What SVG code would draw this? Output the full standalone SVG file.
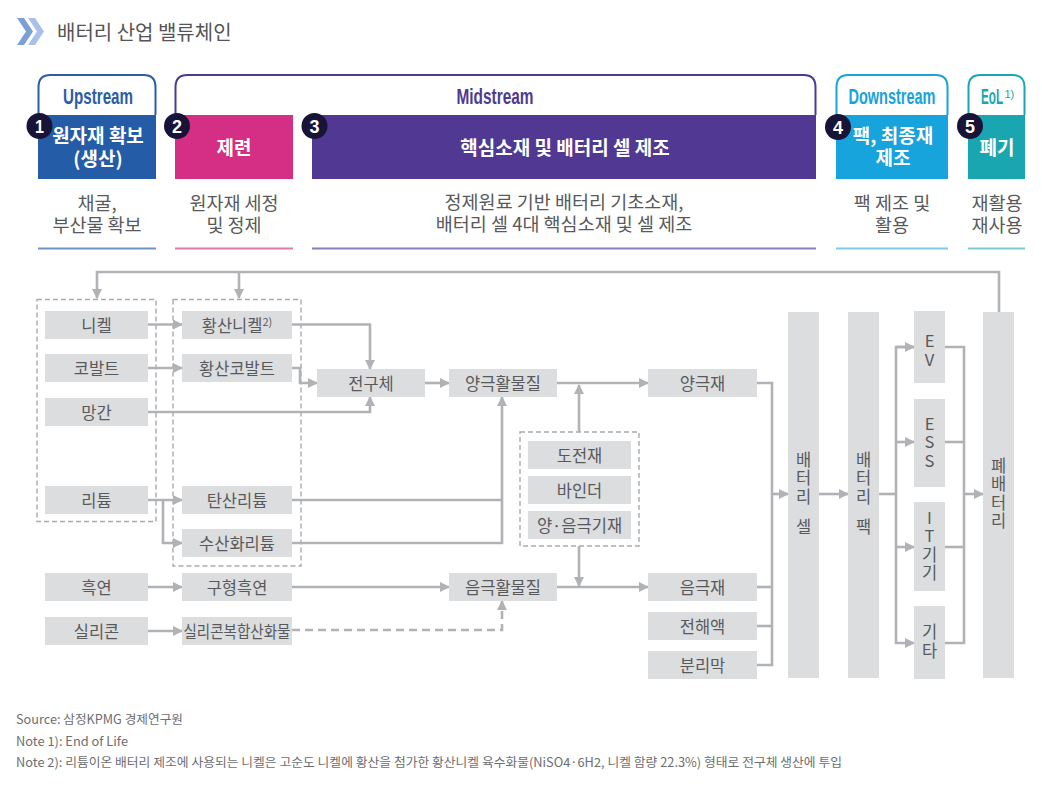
<svg xmlns="http://www.w3.org/2000/svg" width="1042" height="786" viewBox="0 0 1042 786">
<style>
.bx{fill:#dcdddf}
.lb{font-family:"Noto Sans CJK KR","Noto Sans",sans-serif;font-size:16.5px;fill:#58595b;text-anchor:middle;dominant-baseline:central}
.vt{font-family:"Noto Sans CJK KR","Noto Sans",sans-serif;font-size:16.5px;fill:#58595b;text-anchor:middle;writing-mode:vertical-rl;text-orientation:upright;letter-spacing:2px;word-spacing:-7px}
.ln{fill:none;stroke:#b1b2b5;stroke-width:2.6}
.dash{fill:none;stroke:#a9aaad;stroke-width:1.4;stroke-dasharray:5 3}
.hd{font-family:"Liberation Sans",Arial,sans-serif;font-weight:bold;font-size:22px;text-anchor:middle}
.wt{font-family:"Noto Sans CJK KR",sans-serif;font-weight:bold;font-size:19px;fill:#fff;text-anchor:middle}
.ds{font-family:"Noto Sans CJK KR",sans-serif;font-size:18.5px;fill:#58595b;text-anchor:middle}
.num{font-family:"Liberation Sans",Arial,sans-serif;font-weight:bold;font-size:19px;fill:#fff;text-anchor:middle}
.ft{font-family:"Noto Sans CJK KR","Noto Sans",sans-serif;font-size:12.5px;fill:#6d6e71}
</style>
<defs>
<marker id="ah" viewBox="0 0 10 10" refX="9" refY="5" markerWidth="10" markerHeight="10" markerUnits="userSpaceOnUse" orient="auto">
<path d="M0,0 L10,5 L0,10 z" fill="#b1b2b5"/>
</marker>
</defs>
<rect width="1042" height="786" fill="#fff"/>

<g id="title">
<path d="M17,18 H24 L33,31.5 L24,45 H17 L26,31.5 z" fill="#7d9fd8"/>
<path d="M28,18 H35 L44,31.5 L35,45 H28 L37,31.5 z" fill="#a9c0ea"/>
<text x="57" y="40" font-family="Noto Sans CJK KR,sans-serif" font-size="20" fill="#555">배터리 산업 밸류체인</text>
</g>

<g id="stage-upstream">
<path d="M38.5,115 V87 Q38.5,75 50.5,75 H143.5 Q155.5,75 155.5,87 V115" fill="none" stroke="#2a5ca8" stroke-width="2"/>
<text class="hd" x="98" y="104" fill="#2a5ca8" textLength="70" lengthAdjust="spacingAndGlyphs">Upstream</text>
<rect x="38" y="115" width="118" height="64" fill="#255ca8"/>
<circle cx="39.5" cy="126" r="13" fill="#1a1338"/>
<text class="num" x="39.5" y="133" textLength="9" lengthAdjust="spacingAndGlyphs">1</text>
<text class="wt" x="98" y="143">원자재 확보</text>
<text class="wt" x="98" y="166">(생산)</text>
<text class="ds" x="97" y="209.5">채굴,</text>
<text class="ds" x="97" y="232">부산물 확보</text>
<line x1="38" y1="248.5" x2="156" y2="248.5" stroke="#6f92c8" stroke-width="2"/>
</g>

<g id="stage-midstream">
<path d="M175.5,115 V87 Q175.5,75 187.5,75 H803.5 Q815.5,75 815.5,87 V115" fill="none" stroke="#4f3a93" stroke-width="2"/>
<text class="hd" x="495" y="103.5" fill="#4f3a93" textLength="77" lengthAdjust="spacingAndGlyphs">Midstream</text>
<rect x="175" y="115" width="118" height="64" fill="#d52e85"/>
<circle cx="177" cy="126" r="13" fill="#1a1338"/>
<text class="num" x="177" y="133" textLength="10" lengthAdjust="spacingAndGlyphs">2</text>
<text class="wt" x="234" y="155">제련</text>
<text class="ds" x="234" y="209.5">원자재 세정</text>
<text class="ds" x="234" y="232">및 정제</text>
<line x1="175" y1="248.5" x2="293" y2="248.5" stroke="#e07bb0" stroke-width="2"/>
<rect x="312" y="115" width="504" height="64" fill="#503893"/>
<circle cx="314.5" cy="126" r="13" fill="#1a1338"/>
<text class="num" x="314.5" y="133" textLength="10" lengthAdjust="spacingAndGlyphs">3</text>
<text class="wt" x="565" y="155">핵심소재 및 배터리 셀 제조</text>
<text class="ds" x="564" y="208.5">정제원료 기반 배터리 기초소재,</text>
<text class="ds" x="564" y="231">배터리 셀 4대 핵심소재 및 셀 제조</text>
<line x1="312" y1="248.5" x2="816" y2="248.5" stroke="#8c7cbb" stroke-width="2"/>
</g>

<g id="stage-downstream">
<path d="M836.5,115 V87 Q836.5,75 848.5,75 H935.5 Q947.5,75 947.5,87 V115" fill="none" stroke="#1aa3d9" stroke-width="2"/>
<text class="hd" x="892" y="103.5" fill="#1aa3d9" textLength="87" lengthAdjust="spacingAndGlyphs">Downstream</text>
<rect x="836" y="115" width="112" height="64" fill="#17a3dc"/>
<circle cx="838" cy="127" r="13" fill="#1a1338"/>
<text class="num" x="838" y="134" textLength="10" lengthAdjust="spacingAndGlyphs">4</text>
<text class="wt" x="893" y="143">팩, 최종재</text>
<text class="wt" x="893" y="165">제조</text>
<text class="ds" x="892" y="209.5">팩 제조 및</text>
<text class="ds" x="892" y="232">활용</text>
<line x1="836" y1="248.5" x2="948" y2="248.5" stroke="#7dcbea" stroke-width="2"/>
</g>

<g id="stage-eol">
<path d="M968.5,115 V87 Q968.5,75 980.5,75 H1012.5 Q1024.5,75 1024.5,87 V115" fill="none" stroke="#1aa6b0" stroke-width="2"/>
<text transform="translate(981,103.5) scale(0.53,1)" font-family="Liberation Sans,Arial,sans-serif" font-weight="bold" font-size="22" fill="#1aa6b0">EoL</text>
<text x="1004.5" y="98" font-family="Liberation Sans,Arial,sans-serif" font-size="11" fill="#1aa6b0">1)</text>
<rect x="968" y="115" width="57" height="64" fill="#1aa6b0"/>
<circle cx="970" cy="126" r="13" fill="#1a1338"/>
<text class="num" x="970" y="133" textLength="10" lengthAdjust="spacingAndGlyphs">5</text>
<text class="wt" x="997" y="155">폐기</text>
<text class="ds" x="997" y="209.5">재활용</text>
<text class="ds" x="997" y="232">재사용</text>
<line x1="968" y1="248.5" x2="1025" y2="248.5" stroke="#7ccacf" stroke-width="2"/>
</g>

<g id="groups">
<rect class="dash" x="37" y="299.5" width="119" height="222"/>
<rect class="dash" x="173" y="299.5" width="128" height="266.5"/>
<rect class="dash" x="520" y="432" width="119" height="114"/>
</g>

<g id="connectors">
<path class="ln" d="M999,312 V272 H97 V298" marker-end="url(#ah)"/>
<path class="ln" d="M239,272 V298" marker-end="url(#ah)"/>
<path class="ln" d="M148,324.5 H182" marker-end="url(#ah)"/>
<path class="ln" d="M148,368 H182" marker-end="url(#ah)"/>
<path class="ln" d="M292,324.5 H370 V369" marker-end="url(#ah)"/>
<path class="ln" d="M292,368 H300 V383 H317" marker-end="url(#ah)"/>
<path class="ln" d="M148,412 H370 V397" marker-end="url(#ah)"/>
<path class="ln" d="M148,500 H182" marker-end="url(#ah)"/>
<path class="ln" d="M163,500 V543 H182" marker-end="url(#ah)"/>
<path class="ln" d="M292,500 H502"/>
<path class="ln" d="M292,543 H502 V397" marker-end="url(#ah)"/>
<path class="ln" d="M425,383 H449" marker-end="url(#ah)"/>
<path class="ln" d="M557,383 H648" marker-end="url(#ah)"/>
<path class="ln" d="M579,432 V385" marker-end="url(#ah)"/>
<path class="ln" d="M579,546 V586" marker-end="url(#ah)"/>
<path class="ln" d="M148,587 H182" marker-end="url(#ah)"/>
<path class="ln" d="M292,587 H449" marker-end="url(#ah)"/>
<path class="ln" d="M557,587 H648" marker-end="url(#ah)"/>
<path class="ln" d="M148,631 H182" marker-end="url(#ah)"/>
<path class="ln" d="M292,630 H502 V601" stroke-dasharray="8 5" marker-end="url(#ah)"/>
<path class="ln" d="M757,383 H772 V665 H757"/>
<path class="ln" d="M757,587 H772"/>
<path class="ln" d="M757,626 H772"/>
<path class="ln" d="M772,494 H788" marker-end="url(#ah)"/>
<path class="ln" d="M819,494 H848" marker-end="url(#ah)"/>
<path class="ln" d="M879,494 H896"/>
<path class="ln" d="M914,347 H896 V643 H914" marker-end="url(#ah)"/>
<path class="ln" d="M896,347 H914" marker-end="url(#ah)"/>
<path class="ln" d="M896,442 H914" marker-end="url(#ah)"/>
<path class="ln" d="M896,547 H914" marker-end="url(#ah)"/>
<path class="ln" d="M945,347 H964 V643 H945"/>
<path class="ln" d="M945,442 H964"/>
<path class="ln" d="M945,547 H964"/>
<path class="ln" d="M964,494 H983" marker-end="url(#ah)"/>
</g>

<g id="n-nickel"><rect class="bx" x="45" y="311" width="103" height="28"/><text class="lb" x="96.5" y="325">니켈</text></g>
<g id="n-cobalt"><rect class="bx" x="45" y="354" width="103" height="28"/><text class="lb" x="96.5" y="368">코발트</text></g>
<g id="n-manganese"><rect class="bx" x="45" y="398" width="103" height="28"/><text class="lb" x="96.5" y="412">망간</text></g>
<g id="n-lithium"><rect class="bx" x="45" y="486" width="103" height="28"/><text class="lb" x="96.5" y="500">리튬</text></g>
<g id="n-graphite"><rect class="bx" x="45" y="573" width="103" height="28"/><text class="lb" x="96.5" y="587">흑연</text></g>
<g id="n-silicon"><rect class="bx" x="45" y="617" width="103" height="28"/><text class="lb" x="96.5" y="631">실리콘</text></g>

<g id="n-nickel-sulfate"><rect class="bx" x="182" y="311" width="110" height="28"/><text class="lb" x="237" y="325">황산니켈<tspan font-size="11" dy="-4">2)</tspan></text></g>
<g id="n-cobalt-sulfate"><rect class="bx" x="182" y="354" width="110" height="28"/><text class="lb" x="237" y="368">황산코발트</text></g>
<g id="n-li-carbonate"><rect class="bx" x="182" y="486" width="110" height="28"/><text class="lb" x="237" y="500">탄산리튬</text></g>
<g id="n-li-hydroxide"><rect class="bx" x="182" y="529" width="110" height="28"/><text class="lb" x="237" y="543">수산화리튬</text></g>
<g id="n-spherical-graphite"><rect class="bx" x="182" y="573" width="110" height="28"/><text class="lb" x="237" y="587">구형흑연</text></g>
<g id="n-sio"><rect class="bx" x="182" y="617" width="110" height="28"/><text class="lb" x="237" y="631" textLength="107" lengthAdjust="spacingAndGlyphs">실리콘복합산화물</text></g>

<g id="n-precursor"><rect class="bx" x="317" y="369" width="108" height="28"/><text class="lb" x="371" y="383">전구체</text></g>
<g id="n-cathode-am"><rect class="bx" x="449" y="369" width="108" height="28"/><text class="lb" x="503" y="383">양극활물질</text></g>
<g id="n-anode-am"><rect class="bx" x="449" y="573" width="108" height="28"/><text class="lb" x="503" y="587">음극활물질</text></g>

<g id="n-conductive"><rect class="bx" x="528" y="441" width="103" height="28"/><text class="lb" x="579.5" y="455">도전재</text></g>
<g id="n-binder"><rect class="bx" x="528" y="476" width="103" height="28"/><text class="lb" x="579.5" y="490">바인더</text></g>
<g id="n-foil"><rect class="bx" x="528" y="511" width="103" height="28"/><text class="lb" x="579.5" y="525">양·음극기재</text></g>

<g id="n-cathode"><rect class="bx" x="648" y="369" width="109" height="28"/><text class="lb" x="702.5" y="383">양극재</text></g>
<g id="n-anode"><rect class="bx" x="648" y="573" width="109" height="28"/><text class="lb" x="702.5" y="587">음극재</text></g>
<g id="n-electrolyte"><rect class="bx" x="648" y="612" width="109" height="28"/><text class="lb" x="702.5" y="626">전해액</text></g>
<g id="n-separator"><rect class="bx" x="648" y="651" width="109" height="28"/><text class="lb" x="702.5" y="665">분리막</text></g>

<g id="n-cell"><rect class="bx" x="788" y="312" width="31" height="366"/>
<text class="vt" x="803.5" y="494">배터리 셀</text></g>
<g id="n-pack"><rect class="bx" x="848" y="312" width="31" height="366"/>
<text class="vt" x="863.5" y="494">배터리 팩</text></g>

<g id="n-ev"><rect class="bx" x="914" y="311" width="31" height="72"/>
<text class="vt" x="929.5" y="351">EV</text></g>
<g id="n-ess"><rect class="bx" x="914" y="399" width="31" height="88"/>
<text class="vt" x="929.5" y="443">ESS</text></g>
<g id="n-it"><rect class="bx" x="914" y="502" width="31" height="89"/>
<text class="vt" x="929.5" y="546">IT기기</text></g>
<g id="n-etc"><rect class="bx" x="914" y="606" width="31" height="73"/>
<text class="vt" x="929.5" y="642">기타</text></g>

<g id="n-waste"><rect class="bx" x="983" y="312" width="31" height="366"/>
<text class="vt" x="998.5" y="494">폐배터리</text></g>

<g id="footer">
<text class="ft" x="16" y="723.5" textLength="167" lengthAdjust="spacingAndGlyphs">Source: 삼정KPMG 경제연구원</text>
<text class="ft" x="16" y="745.5" textLength="112" lengthAdjust="spacingAndGlyphs">Note 1): End of Life</text>
<text class="ft" x="16" y="767" textLength="826" lengthAdjust="spacingAndGlyphs">Note 2): 리튬이온 배터리 제조에 사용되는 니켈은 고순도 니켈에 황산을 첨가한 황산니켈 육수화물(NiSO4·6H2, 니켈 함량 22.3%) 형태로 전구체 생산에 투입</text>
</g>
</svg>
